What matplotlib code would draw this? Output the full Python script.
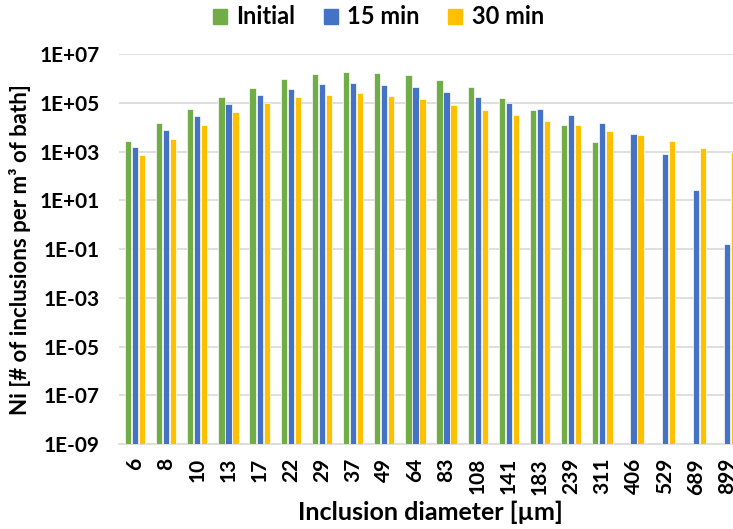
import numpy as np
import matplotlib
matplotlib.use("Agg")
import matplotlib.pyplot as plt
from matplotlib.patches import Patch

# --- data ---
diameters = ["6", "8", "10", "13", "17", "22", "29", "37", "49", "64",
             "83", "108", "141", "183", "239", "311", "406", "529", "689", "899"]

initial = [2.8e3, 1.5e4, 5.7e4, 1.7e5, 4.3e5, 9.5e5, 1.5e6, 1.9e6, 1.7e6, 1.4e6,
           8.6e5, 4.4e5, 1.6e5, 5.2e4, 1.2e4, 2.5e3, np.nan, np.nan, np.nan, np.nan]
min15 = [1.6e3, 7.7e3, 2.9e4, 9.3e4, 2.2e5, 3.9e5, 6.3e5, 6.9e5, 5.7e5, 4.4e5,
         2.8e5, 1.7e5, 1.0e5, 5.7e4, 3.3e4, 1.5e4, 5.2e3, 7.8e2, 28, 0.16]
min30 = [7.0e2, 3.4e3, 1.3e4, 4.2e4, 1.0e5, 1.7e5, 2.2e5, 2.5e5, 2.0e5, 1.4e5,
         7.9e4, 5.2e4, 3.2e4, 1.9e4, 1.2e4, 7.4e3, 4.8e3, 2.7e3, 1.4e3, 9.7e2]

series = [("Initial", initial, "#70AD47"),
          ("15 min", min15, "#4472C4"),
          ("30 min", min30, "#FFC000")]

# --- figure ---
plt.rcParams['font.family'] = ['Lato', 'DejaVu Sans']
plt.rcParams['font.weight'] = 'bold'
plt.rcParams['axes.labelweight'] = 'bold'

fig = plt.figure(figsize=(7.33, 5.29), dpi=100)
ax = fig.add_axes([0.1629, 0.1607, 0.8502, 0.7367])

x = np.arange(len(diameters))
w = 0.2
step = 0.225
for i, (name, vals, col) in enumerate(series):
    ax.bar(x + (i - 1) * step, vals, width=w, color=col, edgecolor="white",
           linewidth=0.5, bottom=1e-9, label=name, zorder=3)

ax.set_yscale("log")
ax.set_ylim(1e-9, 1e7)
ax.set_xlim(-0.5, len(diameters) - 0.5)
ax.set_yticks([10.0 ** k for k in range(-9, 8, 2)])
ax.set_yticklabels(["1E-09", "1E-07", "1E-05", "1E-03", "1E-01",
                    "1E+01", "1E+03", "1E+05", "1E+07"])
ax.minorticks_off()
ax.set_xticks(x)
ax.set_xticklabels(diameters, rotation=90)

ax.grid(axis="y", color="#D9D9D9", linewidth=1.2, zorder=0)
for s in ["top", "right", "left"]:
    ax.spines[s].set_visible(False)
ax.spines["bottom"].set_color("#D9D9D9")
ax.spines["bottom"].set_linewidth(1.2)
ax.tick_params(axis="y", length=0, pad=14, labelsize=15)
ax.tick_params(axis="x", length=0, pad=10, labelsize=15)

ax.set_ylabel("Ni [# of inclusions per m³ of bath]", fontsize=16, labelpad=6)
fig.text(0.587, 0.032, "Inclusion diameter [µm]", fontsize=18,
         ha="center", va="center")

handles = [Patch(color=c) for _, _, c in series]
fig.legend(handles, [n for n, _, _ in series], loc="upper center",
           bbox_to_anchor=(0.516, 1.03), ncol=3, frameon=False, fontsize=17,
           handlelength=0.6, handleheight=0.6, handletextpad=0.4, columnspacing=1.2)

fig.savefig("out.png", dpi=100)
